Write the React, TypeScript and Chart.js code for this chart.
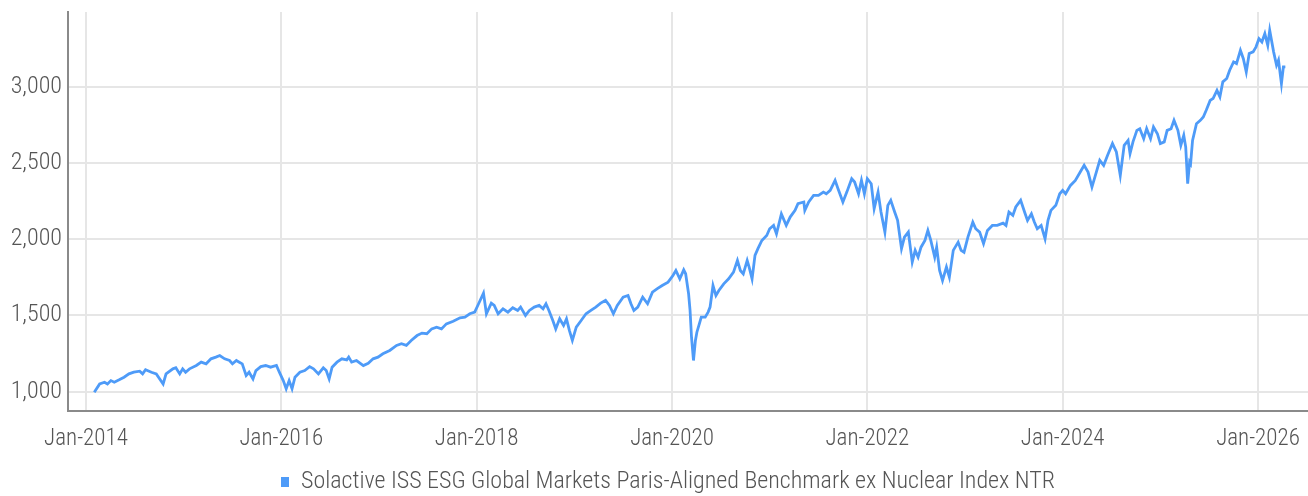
import { useEffect, useRef } from "react";
import { Chart, registerables } from "chart.js";

Chart.register(...registerables);

const SERIES_LABEL =
  "Solactive ISS ESG Global Markets Paris-Aligned Benchmark ex Nuclear Index NTR";

// Dates as fractional years
const DATE_YEARS = [
  2014.085, 2014.14, 2014.19, 2014.22, 2014.255, 2014.29, 2014.34, 2014.39, 2014.44, 2014.49,
  2014.55, 2014.58, 2014.61, 2014.67, 2014.72, 2014.79, 2014.82, 2014.89, 2014.92, 2014.96,
  2014.99, 2015.02, 2015.06, 2015.13, 2015.18, 2015.23, 2015.28, 2015.33, 2015.37, 2015.42,
  2015.47, 2015.5, 2015.54, 2015.57, 2015.6, 2015.64, 2015.67, 2015.71, 2015.74, 2015.79,
  2015.84, 2015.89, 2015.95, 2015.98, 2016.02, 2016.05, 2016.08, 2016.11, 2016.14, 2016.19,
  2016.24, 2016.29, 2016.33, 2016.38, 2016.43, 2016.46, 2016.49, 2016.52, 2016.57, 2016.62,
  2016.67, 2016.69, 2016.72, 2016.77, 2016.84, 2016.89, 2016.94, 2016.99, 2017.04, 2017.11,
  2017.18, 2017.23, 2017.28, 2017.33, 2017.39, 2017.44, 2017.49, 2017.54, 2017.59, 2017.64,
  2017.69, 2017.76, 2017.83, 2017.88, 2017.93, 2017.98, 2018.02, 2018.07, 2018.1, 2018.15,
  2018.18, 2018.22, 2018.27, 2018.32, 2018.37, 2018.42, 2018.45, 2018.5, 2018.54, 2018.59,
  2018.64, 2018.68, 2018.71, 2018.74, 2018.78, 2018.81, 2018.85, 2018.89, 2018.92, 2018.95,
  2018.98, 2019.02, 2019.07, 2019.12, 2019.17, 2019.22, 2019.27, 2019.32, 2019.36, 2019.4,
  2019.44, 2019.5, 2019.55, 2019.58, 2019.61, 2019.65, 2019.7, 2019.75, 2019.8, 2019.85,
  2019.9, 2019.96, 2020.01, 2020.04, 2020.08, 2020.12, 2020.14, 2020.17, 2020.185, 2020.2,
  2020.22, 2020.24, 2020.255, 2020.28, 2020.3, 2020.34, 2020.37, 2020.39, 2020.42, 2020.45,
  2020.48, 2020.53, 2020.58, 2020.63, 2020.67, 2020.7, 2020.73, 2020.77, 2020.79, 2020.82,
  2020.85, 2020.88, 2020.92, 2020.97, 2021.0, 2021.04, 2021.07, 2021.12, 2021.17, 2021.21,
  2021.26, 2021.29, 2021.35, 2021.36, 2021.4, 2021.45, 2021.5, 2021.55, 2021.58, 2021.62,
  2021.67, 2021.7, 2021.75, 2021.79, 2021.84, 2021.87, 2021.91, 2021.94, 2021.97, 2022.0,
  2022.04, 2022.07, 2022.11, 2022.14, 2022.18, 2022.21, 2022.24, 2022.28, 2022.31, 2022.35,
  2022.38, 2022.42, 2022.46, 2022.49, 2022.52, 2022.55, 2022.59, 2022.62, 2022.65, 2022.69,
  2022.71, 2022.74, 2022.77, 2022.81, 2022.84, 2022.88, 2022.93, 2022.96, 2022.99, 2023.03,
  2023.08, 2023.11, 2023.15, 2023.19, 2023.23, 2023.28, 2023.33, 2023.39, 2023.42, 2023.45,
  2023.49, 2023.52, 2023.57, 2023.61, 2023.64, 2023.68, 2023.71, 2023.74, 2023.78, 2023.82,
  2023.85, 2023.88, 2023.93, 2023.97, 2024.0, 2024.03, 2024.08, 2024.13, 2024.18, 2024.22,
  2024.26, 2024.3, 2024.35, 2024.38, 2024.42, 2024.46, 2024.51, 2024.55, 2024.59, 2024.63,
  2024.67, 2024.69, 2024.72, 2024.76, 2024.79, 2024.83, 2024.86, 2024.9, 2024.93, 2024.97,
  2025.0, 2025.04, 2025.07, 2025.11, 2025.14, 2025.18, 2025.21, 2025.24, 2025.26, 2025.28,
  2025.3, 2025.31, 2025.33, 2025.37, 2025.41, 2025.44, 2025.47, 2025.51, 2025.54, 2025.58,
  2025.61, 2025.64, 2025.68, 2025.71, 2025.75, 2025.78, 2025.82, 2025.85, 2025.88, 2025.91,
  2025.95, 2025.98, 2026.01, 2026.04, 2026.07, 2026.1, 2026.12, 2026.16, 2026.19, 2026.21,
  2026.24, 2026.26, 2026.28,
];

const INDEX_VALUES = [
  995, 1050, 1061, 1050, 1072, 1061, 1077, 1094, 1116, 1127,
  1134, 1116, 1143, 1127, 1116, 1050, 1116, 1149, 1156, 1116,
  1149, 1127, 1149, 1171, 1193, 1182, 1215, 1226, 1237, 1215,
  1204, 1182, 1204, 1193, 1182, 1105, 1127, 1083, 1138, 1164,
  1171, 1160, 1171, 1127, 1072, 1018, 1072, 1018, 1094, 1127,
  1138, 1164, 1149, 1116, 1156, 1138, 1083, 1160, 1193, 1215,
  1208, 1226, 1193, 1204, 1171, 1186, 1215, 1226, 1248, 1270,
  1303, 1314, 1303, 1336, 1368, 1384, 1380, 1412, 1423, 1412,
  1445, 1462, 1485, 1489, 1511, 1522, 1577, 1647, 1511, 1581,
  1566, 1511, 1544, 1522, 1551, 1533, 1555, 1500, 1533, 1555,
  1566, 1544, 1577, 1533, 1467, 1412, 1478, 1434, 1478, 1401,
  1336, 1423, 1467, 1511, 1533, 1555, 1581, 1599, 1566, 1511,
  1566, 1620, 1631, 1577, 1533, 1555, 1620, 1577, 1653, 1676,
  1697, 1719, 1763, 1796, 1741, 1800, 1774, 1643, 1533, 1357,
  1204, 1336, 1390, 1445, 1489, 1489, 1522, 1555, 1697, 1631,
  1664, 1708, 1741, 1785, 1862, 1796, 1774, 1862, 1818, 1741,
  1895, 1939, 1993, 2026, 2070, 2092, 2037, 2168, 2092, 2147,
  2191, 2235, 2246, 2191, 2246, 2289, 2289, 2311, 2300, 2322,
  2388, 2333, 2246, 2311, 2399, 2377, 2300, 2388, 2300, 2399,
  2366, 2202, 2311, 2180, 2048, 2224, 2257, 2180, 2125, 1939,
  2015, 2048, 1851, 1928, 1884, 1949, 1993, 2059, 1993, 1884,
  1949, 1796, 1730, 1818, 1752, 1928, 1982, 1928, 1916, 2015,
  2114, 2070, 2048, 1972, 2059, 2092, 2092, 2107, 2092, 2180,
  2158, 2213, 2257, 2180, 2125, 2169, 2114, 2070, 2092, 2004,
  2125, 2191, 2224, 2300, 2322, 2300, 2355, 2388, 2443, 2487,
  2443, 2344, 2454, 2520, 2487, 2553, 2630, 2575, 2421, 2618,
  2651, 2564, 2641, 2717, 2728, 2662, 2728, 2662, 2739, 2695,
  2630, 2641, 2717, 2728, 2783, 2717, 2618, 2684, 2607, 2366,
  2509, 2498, 2651, 2761, 2783, 2805, 2849, 2914, 2926, 2980,
  2937, 3036, 3058, 3112, 3167, 3156, 3243, 3188, 3101, 3222,
  3233, 3266, 3320, 3298, 3353, 3276, 3375, 3233, 3145, 3178,
  3024, 3134, 3134,
];

const X_TICK_YEARS = [2014, 2016, 2018, 2020, 2022, 2024, 2026];
const Y_TICK_VALUES = [1000, 1500, 2000, 2500, 3000];

const LINE_COLOR = "#4e9bf8";
const GRID_COLOR = "#e6e6e6";
const AXIS_COLOR = "#8a8a8a";
const TEXT_COLOR = "#555555";
const FONT_FAMILY = "'Roboto Condensed', Roboto, sans-serif";

const zeroPad = (s: any) => {
  s.paddingLeft = 0;
  s.paddingRight = 0;
  s.paddingTop = 0;
  s.paddingBottom = 0;
};

export default function App() {
  const canvasRef = useRef<HTMLCanvasElement | null>(null);

  useEffect(() => {
    const canvas = canvasRef.current;
    if (!canvas) return;

    const legendShift = {
      id: "legendShift",
      afterLayout(chart: any) {
        if (chart.legend) {
          chart.legend.left += 14;
          chart.legend.right += 14;
        }
      },
    };

    const chart = new Chart(canvas, {
      type: "line",
      data: {
        datasets: [
          {
            label: SERIES_LABEL,
            data: DATE_YEARS.map((x, i) => ({ x, y: INDEX_VALUES[i] })),
            borderColor: LINE_COLOR,
            backgroundColor: LINE_COLOR,
            borderWidth: 2.8,
            pointRadius: 0,
            tension: 0,
          },
        ],
      },
      options: {
        animation: false,
        responsive: false,
        layout: { padding: { top: 12, right: 0, bottom: -8, left: 0 } },
        scales: {
          x: {
            type: "linear",
            min: 2013.816,
            max: 2026.512,
            afterBuildTicks: (s: any) => {
              s.ticks = X_TICK_YEARS.map((v) => ({ value: v }));
            },
            afterFit: (s: any) => {
              s.height = 45;
              zeroPad(s);
            },
            grid: { color: GRID_COLOR, lineWidth: 2, drawTicks: false },
            border: { color: AXIS_COLOR, width: 2 },
            ticks: {
              padding: 14,
              autoSkip: false,
              maxRotation: 0,
              color: TEXT_COLOR,
              font: { family: FONT_FAMILY, size: 23, weight: "300" },
              callback: (v: any) => "Jan-" + v,
            },
          },
          y: {
            type: "linear",
            min: 872,
            max: 3495,
            afterBuildTicks: (s: any) => {
              s.ticks = Y_TICK_VALUES.map((v) => ({ value: v }));
            },
            afterFit: (s: any) => {
              s.width = 68;
              zeroPad(s);
            },
            grid: { color: GRID_COLOR, lineWidth: 2, drawTicks: false },
            border: { color: AXIS_COLOR, width: 2 },
            ticks: {
              padding: 6,
              color: TEXT_COLOR,
              font: { family: FONT_FAMILY, size: 24, weight: "300" },
              callback: (v: any) => Number(v).toLocaleString("en-US"),
            },
          },
        },
        plugins: {
          legend: {
            position: "bottom",
            labels: {
              boxWidth: 8,
              boxHeight: 10,
              padding: 14,
              color: TEXT_COLOR,
              font: { family: FONT_FAMILY, size: 24, weight: "300" },
              generateLabels: (c: any) =>
                Chart.defaults.plugins.legend.labels
                  .generateLabels(c)
                  .map((it: any) => ({ ...it, lineWidth: 0 })),
            },
          },
          tooltip: { enabled: false },
        },
      },
      plugins: [legendShift],
    });

    return () => chart.destroy();
  }, []);

  return (
    <div style={{ position: "fixed", left: 0, top: 0, width: 1308, height: 496, background: "#fff" }}>
      <canvas ref={canvasRef} width={1308} height={496} style={{ display: "block", width: 1308, height: 496 }} />
    </div>
  );
}
